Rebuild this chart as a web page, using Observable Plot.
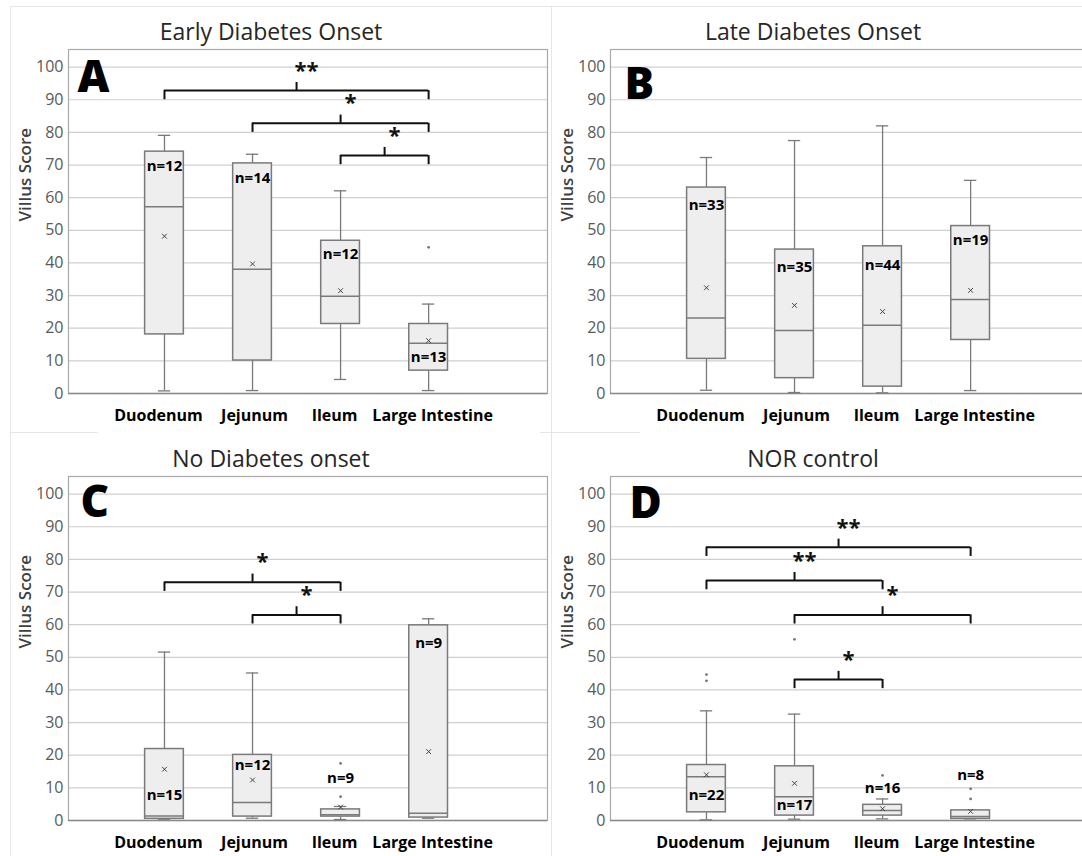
<!DOCTYPE html>
<html><head><meta charset="utf-8">
<script src="https://cdn.jsdelivr.net/npm/d3@7"></script>
<script src="https://cdn.jsdelivr.net/npm/@observablehq/plot@0.6"></script>
<style>
html,body{margin:0;padding:0;background:#fff;}
body{width:1082px;height:856px;overflow:hidden;position:relative;font-family:'Open Sans',sans-serif;}
.panel{position:absolute;overflow:hidden;}
.panel svg{max-width:none !important;}
.line{position:absolute;background:#e6e6e6;}
</style></head><body>
<div class="line" style="left:10px;top:6px;width:1072px;height:1px"></div>
<div class="line" style="left:10px;top:6px;width:1px;height:850px"></div>
<div class="line" style="left:551px;top:6px;width:1px;height:850px"></div>
<div class="line" style="left:10px;top:432px;width:88px;height:1px"></div>
<div class="line" style="left:540px;top:432px;width:100px;height:1px"></div>
<div id="pA" class="panel" style="left:0;top:0;width:551px;height:428px"></div>
<div id="pB" class="panel" style="left:551px;top:0;width:531px;height:428px"></div>
<div id="pC" class="panel" style="left:0;top:428px;width:551px;height:428px"></div>
<div id="pD" class="panel" style="left:551px;top:428px;width:531px;height:428px"></div>
<script>
const categories = ["Duodenum", "Jejunum", "Ileum", "Large Intestine"];
const panelIds = ["A", "B", "C", "D"];
const panelTitles = ["Early Diabetes Onset", "Late Diabetes Onset", "No Diabetes onset", "NOR control"];
const yTicks = [0, 10, 20, 30, 40, 50, 60, 70, 80, 90, 100];

// rows: panels A, B, C, D ; columns: categories
const whiskerLow = [
  [0.8, 0.9, 4.3, 0.9],
  [1.0, 0.3, 0.2, 0.9],
  [0.4, 0.7, 0.3, 0.7],
  [0.2, 0.4, 0.5, 0.5]
];
const quartile1 = [
  [18.1, 10.1, 21.3, 7.0],
  [10.6, 4.7, 2.1, 16.4],
  [0.5, 1.2, 1.2, 0.9],
  [2.5, 1.5, 1.5, 0.5]
];
const medians = [
  [57.2, 38.1, 29.8, 15.4],
  [23.1, 19.3, 20.9, 28.8],
  [1.4, 5.5, 1.8, 2.2],
  [13.4, 7.3, 3.1, 1.2]
];
const quartile3 = [
  [74.1, 70.5, 46.8, 21.3],
  [63.1, 44.1, 45.1, 51.3],
  [21.9, 20.1, 3.4, 59.8],
  [17.0, 16.6, 4.8, 3.1]
];
const whiskerHigh = [
  [79.1, 73.3, 62.1, 27.4],
  [72.3, 77.5, 82.0, 65.3],
  [51.6, 45.2, 4.3, 61.8],
  [33.6, 32.6, 6.6, 3.1]
];
const means = [
  [48.2, 39.7, 31.5, 16.2],
  [32.4, 27.0, 25.1, 31.6],
  [15.7, 12.4, 4.1, 21.1],
  [14.0, 11.4, 3.6, 2.8]
];
const sampleSizes = [
  [12, 14, 12, 13],
  [33, 35, 44, 19],
  [15, 12, 9, 9],
  [22, 17, 16, 8]
];
const sampleLabelY = [
  [69.8, 66.1, 42.8, 11.1],
  [57.7, 38.7, 39.2, 46.9],
  [7.8, 16.8, 13.1, 54.2],
  [7.8, 4.6, 10.0, 13.8]
];
const outliers = [
  [["Large Intestine", 44.8]],
  [],
  [["Ileum", 7.3], ["Ileum", 17.5]],
  [["Duodenum", 42.8], ["Duodenum", 44.7], ["Jejunum", 55.5], ["Ileum", 13.8], ["Large Intestine", 6.6], ["Large Intestine", 9.7]]
];
const significance = [
  [["Duodenum", "Large Intestine", 92.8, "**"], ["Jejunum", "Large Intestine", 82.8, "*"], ["Ileum", "Large Intestine", 72.9, "*"]],
  [],
  [["Duodenum", "Ileum", 73.0, "*"], ["Jejunum", "Ileum", 63.0, "*"]],
  [["Duodenum", "Large Intestine", 83.7, "**"], ["Duodenum", "Ileum", 73.5, "**"], ["Jejunum", "Large Intestine", 63.0, "*"], ["Jejunum", "Ileum", 43.2, "*"]]
];

const font = "'Open Sans', sans-serif";
const boxHalf = 0.22, capHalf = 0.07;
const letterOffsets = [[9, 11], [14, 18], [12, 9], [19, 10]];
const labelShift = [-6, 2, -6, 4];

function makePanel(p, width, marginLeft) {
  const top = p < 2;
  const boxes = categories.map((c, i) => ({
    i, lo: whiskerLow[p][i], q1: quartile1[p][i], med: medians[p][i],
    q3: quartile3[p][i], hi: whiskerHigh[p][i], mean: means[p][i],
    n: "n=" + sampleSizes[p][i], ny: sampleLabelY[p][i]
  }));
  const outs = outliers[p].map(([c, v]) => ({i: categories.indexOf(c), v}));
  const sig = significance[p].map(([a, b, h, s]) => {
    const ia = categories.indexOf(a), ib = categories.indexOf(b);
    return {a: ia, b: ib, h, s, mid: (ia + ib) / 2};
  });
  const ends = sig.flatMap(d => [{x: d.a, h: d.h}, {x: d.b, h: d.h}]);
  const gray = "#7a7a7a";
  return Plot.plot({
    width, height: 428,
    marginLeft, marginRight: 4,
    marginTop: top ? 49 : 48, marginBottom: top ? 35 : 36,
    style: {fontFamily: font, background: "transparent", overflow: "visible"},
    x: {type: "linear", domain: [-1.09, 4.35]},
    y: {domain: [0, 105.4]},
    marks: [
      Plot.gridY({ticks: yTicks.filter(t => t > 0), stroke: "#cfcfcf", strokeOpacity: 1, strokeWidth: 1.2}),
      Plot.frame({stroke: "#a9a9a9", strokeWidth: 1.2}),
      Plot.ruleY([0], {stroke: "#8a8a8a", strokeWidth: 1.6}),
      Plot.axisY({ticks: yTicks, tickSize: 0, tickPadding: 5, fontSize: 16, color: "#5a5a5a", label: null}),
      ...categories.map((c, i) => Plot.axisX({ticks: [i], tickFormat: () => c, tickSize: 0, tickPadding: 16,
        dx: labelShift[i], fontSize: 16, fontWeight: 700, color: "#000", label: null})),
      Plot.ruleX(boxes, {x: "i", y1: "lo", y2: "q1", stroke: gray, strokeWidth: 1.3}),
      Plot.ruleX(boxes, {x: "i", y1: "q3", y2: "hi", stroke: gray, strokeWidth: 1.3}),
      Plot.ruleY(boxes, {x1: d => d.i - capHalf, x2: d => d.i + capHalf, y: "lo", stroke: gray, strokeWidth: 1.3}),
      Plot.ruleY(boxes, {x1: d => d.i - capHalf, x2: d => d.i + capHalf, y: "hi", stroke: gray, strokeWidth: 1.3}),
      Plot.rectY(boxes, {x1: d => d.i - boxHalf, x2: d => d.i + boxHalf, y1: "q1", y2: "q3",
        fill: "#eeeeee", stroke: gray, strokeWidth: 1.5}),
      Plot.ruleY(boxes, {x1: d => d.i - boxHalf, x2: d => d.i + boxHalf, y: "med", stroke: gray, strokeWidth: 1.5}),
      Plot.dot(boxes, {x: "i", y: "mean", symbol: "times", r: 2.3, stroke: "#444", strokeWidth: 1}),
      Plot.dot(outs, {x: "i", y: "v", r: 1.4, fill: "#777", stroke: null}),
      Plot.text(boxes, {x: "i", y: "ny", text: "n", fontSize: 15, fontWeight: 700, fill: "#000", lineAnchor: "middle"}),
      Plot.ruleY(sig, {x1: "a", x2: "b", y: "h", stroke: "#111", strokeWidth: 2}),
      Plot.ruleX(ends, {x: "x", y1: d => d.h - 2.8, y2: "h", stroke: "#111", strokeWidth: 2}),
      Plot.ruleX(sig, {x: "mid", y1: "h", y2: d => d.h + 2.5, stroke: "#111", strokeWidth: 2}),
      Plot.text(sig, {x: "mid", y: d => d.h + 7, text: "s", dx: 10, dy: 3, fontSize: 22, fontWeight: 700, fill: "#111", lineAnchor: "middle"}),
      Plot.text([panelIds[p]], {text: d => d, frameAnchor: "top-left", textAnchor: "start", lineAnchor: "top",
        dx: letterOffsets[p][0], dy: letterOffsets[p][1], fontSize: 44, fontWeight: 800, fill: "#000"}),
      Plot.text([panelTitles[p]], {text: d => d, frameAnchor: "top", lineAnchor: "bottom", dx: -37, dy: -10,
        fontSize: 23, fill: "#262626"}),
      Plot.text(["Villus Score"], {text: d => d, frameAnchor: "left", rotate: -90, dx: -43, lineAnchor: "middle",
        fontSize: 17, fontWeight: 600, fill: "#404040"})
    ]
  });
}

document.getElementById("pA").append(makePanel(0, 551, 68));
document.getElementById("pB").append(makePanel(1, 542, 59));
document.getElementById("pC").append(makePanel(2, 551, 68));
document.getElementById("pD").append(makePanel(3, 542, 59));
</script>
</body></html>
